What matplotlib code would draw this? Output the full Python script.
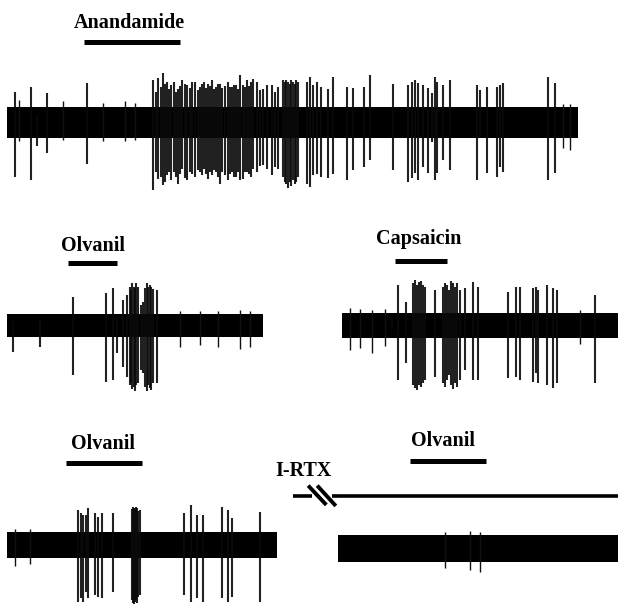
import matplotlib
matplotlib.use("Agg")
import matplotlib.pyplot as plt
import numpy as np

# ---------------- data (time in recording units, amplitude in µV-like units) ----------------
# Trace 1: Anandamide
tr1_window = (7, 578)
tr1_noise = 15.5
tr1_t = [15, 31, 37, 47, 87,
         153, 156, 158, 161, 163, 165, 167, 169, 171, 174, 176, 178, 180, 182, 185, 187, 190, 192,
         195, 198, 200, 202, 204, 206, 208, 210, 212, 214, 216, 218, 220, 222, 225, 228, 230, 232,
         234, 236, 238, 240, 243, 245, 247, 249, 251, 253, 257, 260, 263, 267, 272, 275, 278, 283,
         285, 286, 288, 290, 291, 293, 295, 296, 298, 307, 310, 313, 317, 321, 328, 333, 347, 353,
         364, 370, 393, 408, 412, 415, 418, 423, 428, 432, 435, 437, 443, 450, 477, 480, 487, 497,
         500, 503, 548, 555]
tr1_up = [30, 35, 6, 29, 39,
          42, 30, 44, 35, 49, 38, 40, 33, 37, 40, 30, 33, 36, 42, 38, 37, 34, 40,
          40, 32, 35, 38, 40, 34, 38, 36, 42, 33, 35, 38, 38, 34, 36, 40, 35, 35,
          37, 37, 33, 47, 37, 35, 42, 36, 40, 43, 40, 32, 33, 37, 37, 30, 35, 42,
          40, 42, 40, 38, 42, 40, 38, 42, 40, 40, 45, 37, 40, 35, 33, 45, 35, 34,
          35, 47, 38, 37, 40, 42, 39, 37, 34, 29, 45, 40, 37, 42, 37, 32, 35, 35,
          37, 39, 45, 39]
tr1_down = [55, 58, 24, 31, 42,
            68, 50, 57, 55, 63, 60, 53, 50, 58, 50, 55, 62, 52, 47, 56, 58, 50, 52,
            55, 48, 50, 53, 47, 52, 57, 50, 53, 48, 50, 55, 62, 50, 53, 58, 52, 50,
            55, 55, 50, 58, 57, 50, 50, 52, 55, 47, 50, 44, 43, 47, 53, 45, 47, 55,
            60, 62, 66, 60, 64, 58, 62, 60, 55, 62, 65, 53, 52, 55, 56, 52, 58, 48,
            45, 38, 48, 60, 56, 51, 58, 45, 51, 20, 58, 51, 38, 48, 58, 15, 51, 55,
            45, 50, 58, 51]
tr1_small_t = [19, 63, 103, 125, 135, 563, 570]
tr1_small_up = [6, 5, 4, 5, 4, 3, 3]
tr1_small_down = [3, 2, 3, 3, 2, 10, 12]

# Trace 2: Olvanil
tr2_window = (7, 263)
tr2_noise = 11.5
tr2_t = [13, 40, 73, 106, 113, 117, 123, 127, 130, 131, 132, 134, 135, 136, 138, 141, 143,
         145, 147, 148, 150, 151, 153, 157]
tr2_up = [4, 5, 28, 32, 37, 8, 25, 30, 38, 35, 42, 38, 37, 42, 38, 20, 23, 37, 42, 38, 40, 38, 36, 35]
tr2_down = [27, 22, 50, 57, 55, 28, 42, 52, 60, 58, 64, 62, 66, 60, 58, 45, 48, 62, 66, 60, 63, 65, 58, 58]
tr2_small_t = [180, 200, 218, 240, 250]
tr2_small_up = [3, 3, 3, 4, 3]
tr2_small_down = [10, 8, 10, 12, 10]

# Trace 3: Capsaicin
tr3_window = (342, 618)
tr3_noise = 12.5
tr3_t = [392, 398, 406, 413, 415, 417, 419, 421, 423, 425, 435, 443, 445, 447, 449, 451, 453,
         455, 457, 460, 465, 473, 478, 508, 516, 520, 533, 536, 538, 547, 553, 557, 595]
tr3_up = [8, 40, 23, 42, 45, 40, 43, 44, 40, 38, 35, 38, 42, 40, 35, 44, 42,
          38, 42, 35, 37, 43, 38, 33, 38, 38, 37, 38, 35, 40, 37, 35, 30]
tr3_down = [5, 55, 38, 60, 63, 65, 60, 62, 58, 55, 52, 58, 62, 55, 50, 60, 64,
            58, 62, 55, 45, 55, 55, 53, 52, 55, 57, 48, 58, 60, 63, 58, 58]
tr3_small_t = [350, 360, 372, 385, 580]
tr3_small_up = [5, 4, 3, 4, 3]
tr3_small_down = [12, 10, 15, 8, 6]

# Trace 4: Olvanil
tr4_window = (7, 277)
tr4_noise = 13
tr4_t = [78, 81, 83, 86, 88, 95, 98, 102, 113, 132, 133, 134, 135, 136, 137, 138, 140,
         184, 191, 197, 203, 222, 228, 232, 260]
tr4_up = [35, 32, 30, 30, 37, 32, 28, 32, 32, 36, 38, 37, 36, 38, 37, 34, 35,
          32, 40, 30, 30, 38, 35, 27, 33]
tr4_down = [57, 53, 57, 47, 53, 50, 52, 53, 47, 55, 58, 60, 57, 55, 58, 52, 50,
            50, 57, 53, 57, 53, 57, 52, 57]
tr4_small_t = [15, 30]
tr4_small_up = [3, 3]
tr4_small_down = [8, 6]

# Trace 5: Olvanil after I-RTX
tr5_window = (338, 618)
tr5_noise = 13.5
tr5_t = []
tr5_up = []
tr5_down = []
tr5_small_t = [445, 470, 480]
tr5_small_up = [3, 4, 3]
tr5_small_down = [6, 8, 10]

# drug applications (start, end) in recording time units
anandamide_on = (84, 180)
olvanil2_on = (68, 117)
capsaicin_on = (395, 447)
olvanil4_on = (66, 142)
olvanil5_on = (410, 486)
irtx_on = (293, 618)

# ---------------- figure ----------------
W, H = 618, 604
AMP = 75
fig = plt.figure(figsize=(W / 100, H / 100), dpi=100)
fig.patch.set_facecolor("white")

FONT = dict(family="Liberation Serif", weight="bold", size=14.5, color="black")


def add_trace(window, center_px, noise, t, up, down, st, sup, sdown):
    x0, x1 = window
    ax = fig.add_axes([x0 / W, 1 - (center_px + AMP) / H, (x1 - x0) / W, 2 * AMP / H])
    ax.set_xlim(x0, x1)
    ax.set_ylim(-AMP, AMP)
    ax.set_axis_off()
    ax.fill_between([x0, x1], [-noise, -noise], [noise, noise], color="black", lw=0)
    if st:
        ax.vlines(st, -noise - np.array(sdown), noise + np.array(sup), color="#111111", lw=1.0)
    if t:
        ax.vlines(t, -np.array(down), np.array(up), color="#0a0a0a", lw=1.5, alpha=0.9)
    return ax


def drug_bar(ax, on, y, label, ty, lw=3.6, ha="center", tx=None):
    ax.plot(on, [y, y], color="black", lw=lw, solid_capstyle="butt", clip_on=False)
    if tx is None:
        tx = (on[0] + on[1]) / 2
    ax.text(tx, ty, label, ha=ha, va="baseline", clip_on=False, **FONT)


ax1 = add_trace(tr1_window, 122, tr1_noise, tr1_t, tr1_up, tr1_down, tr1_small_t, tr1_small_up, tr1_small_down)
ax2 = add_trace(tr2_window, 325, tr2_noise, tr2_t, tr2_up, tr2_down, tr2_small_t, tr2_small_up, tr2_small_down)
ax3 = add_trace(tr3_window, 325, tr3_noise, tr3_t, tr3_up, tr3_down, tr3_small_t, tr3_small_up, tr3_small_down)
ax4 = add_trace(tr4_window, 545.5, tr4_noise, tr4_t, tr4_up, tr4_down, tr4_small_t, tr4_small_up, tr4_small_down)
ax5 = add_trace(tr5_window, 548.5, tr5_noise, tr5_t, tr5_up, tr5_down, tr5_small_t, tr5_small_up, tr5_small_down)

drug_bar(ax1, anandamide_on, 80, "Anandamide", 94, tx=129)
drug_bar(ax2, olvanil2_on, 62, "Olvanil", 74, tx=93)
drug_bar(ax3, capsaicin_on, 64, "Capsaicin", 81, tx=419)
drug_bar(ax4, olvanil4_on, 82.5, "Olvanil", 96.5, tx=103)
drug_bar(ax5, olvanil5_on, 87.5, "Olvanil", 102.5, tx=443)

# I-RTX continuous application with break marks
y_irtx = 52.5
ax5.plot([irtx_on[0], 312], [y_irtx, y_irtx], color="black", lw=2.6, solid_capstyle="butt", clip_on=False)
ax5.plot([332, irtx_on[1]], [y_irtx, y_irtx], color="black", lw=2.6, solid_capstyle="butt", clip_on=False)
ax5.plot([309.5, 325], [61.5, 45], color="black", lw=2.8, clip_on=False)
ax5.plot([318.5, 334.5], [61.5, 44], color="black", lw=2.8, clip_on=False)
ax5.text(275, 72.5, "I-RTX", ha="left", va="baseline", clip_on=False, **FONT)

fig.savefig("out.png", dpi=100, facecolor="white")
